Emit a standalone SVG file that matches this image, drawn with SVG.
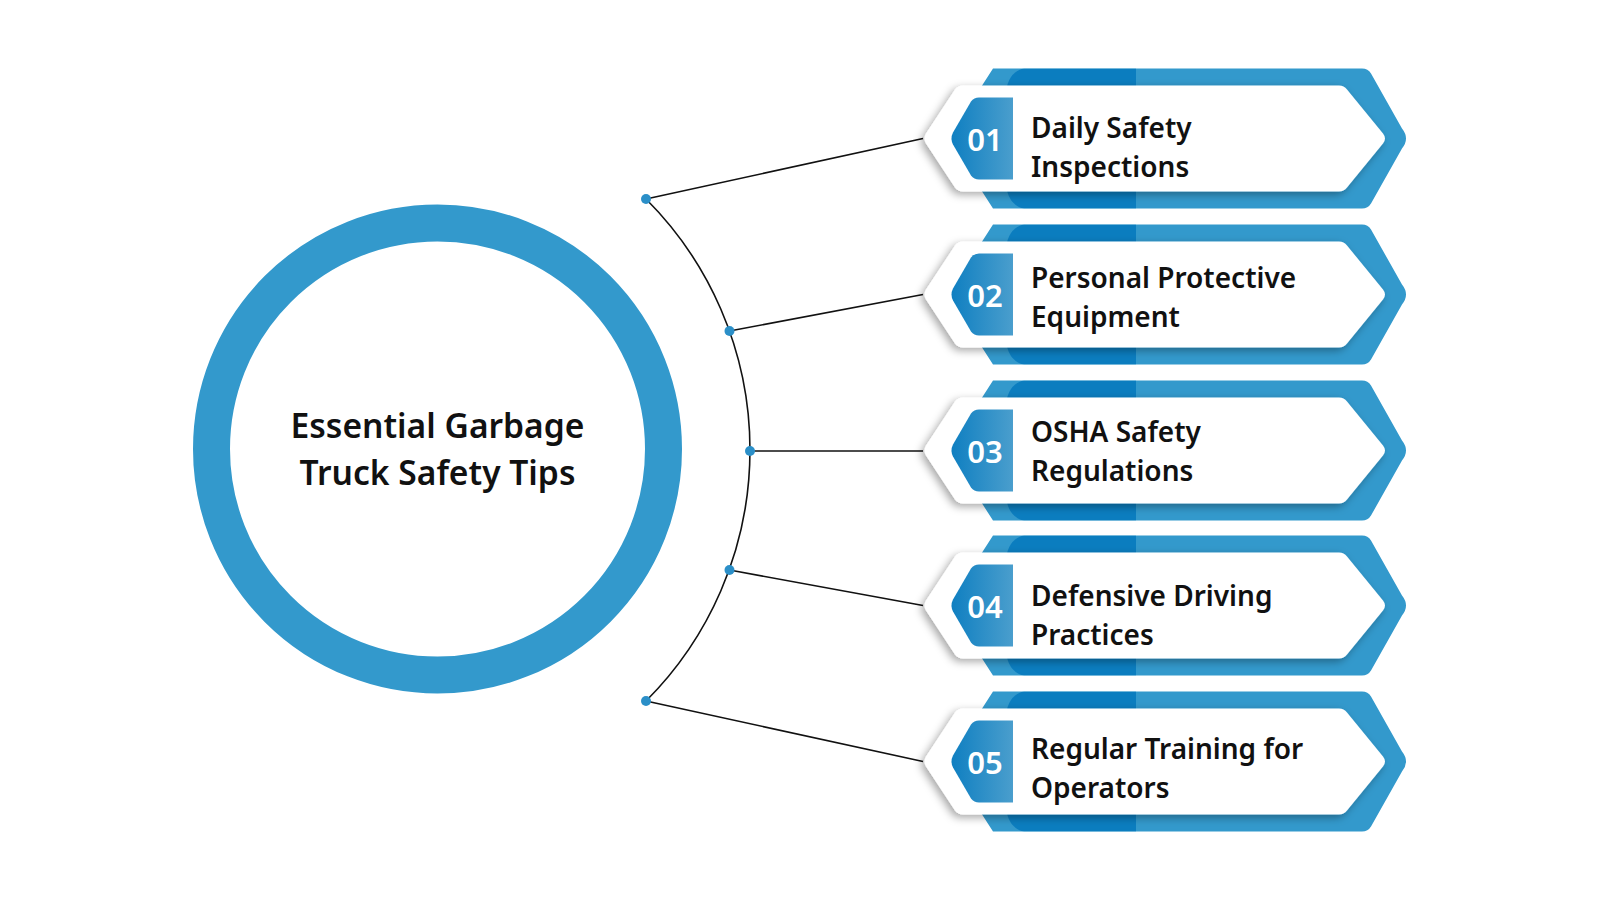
<svg xmlns="http://www.w3.org/2000/svg" width="1600" height="900" viewBox="0 0 1600 900">
<style>
.title{font-family:"Noto Sans","Liberation Sans",sans-serif;font-weight:600;font-size:33.6px;fill:#111;text-anchor:middle}
.lbl{font-family:"Noto Sans","Liberation Sans",sans-serif;font-weight:600;font-size:28px;fill:#111}
.num{font-family:"Noto Sans","Liberation Sans",sans-serif;font-weight:600;font-size:31px;fill:#fff;text-anchor:middle}
.blue{fill:#3399cc}
.band{fill:#0b7dbf}
.white{fill:#fff;filter:url(#sh)}
.badge{fill:url(#badgeG)}
.conn{fill:none;stroke:#111;stroke-width:1.6}
.dot{fill:#2b8fc8}
</style>
<defs>
<filter id="sh" x="-10%" y="-30%" width="120%" height="160%">
<feDropShadow dx="-3" dy="3" stdDeviation="4" flood-color="#000" flood-opacity="0.35"/>
</filter>
<linearGradient id="badgeG" x1="0" y1="0" x2="1" y2="0">
<stop offset="0" stop-color="#0f7fc1"/>
<stop offset="1" stop-color="#4a9ecd"/>
</linearGradient>
<clipPath id="hexClip">
<path d="M993,-70 L1362,-70 Q1368,-70 1371,-65 L1402,-10 Q1410,0 1402,10 L1371,65 Q1368,70 1362,70 L993,70 L948,0 Z"/>
</clipPath>
<g id="item">
<path class="blue" d="M993,-70 L1362,-70 Q1368,-70 1371,-65 L1402,-10 Q1410,0 1402,10 L1371,65 Q1368,70 1362,70 L993,70 L948,0 Z"/>
<path class="band" clip-path="url(#hexClip)" d="M1136,-72 L1036,-72 Q1006,-72 1006,-42 L1006,42 Q1006,72 1036,72 L1136,72 Z"/>
<path class="white" d="M963,-53 L1339,-53 Q1344,-53 1347,-49 L1383,-5 Q1387,0 1383,5 L1347,49 Q1344,53 1339,53 L963,53 Q958,53 955,49 L926,5 Q923,0 926,-5 L955,-49 Q958,-53 963,-53 Z"/>
<path class="badge" d="M1013,-41 L979,-41 Q974,-41 971,-37 L953,-6 Q950,0 953,6 L971,37 Q974,41 979,41 L1013,41 Z"/>
</g>
</defs>
<rect width="1600" height="900" fill="#fff"/>

<g id="center">
<circle cx="437.5" cy="449" r="226" fill="#fff" stroke="#3399cc" stroke-width="37"/>
<text class="title" x="437.5" y="438">Essential Garbage</text>
<text class="title" x="437.5" y="485">Truck Safety Tips</text>
</g>

<g id="connectors">
<path class="conn" d="M646,199 A355,355 0 0 1 646,701"/>
<line class="conn" x1="646" y1="199" x2="923" y2="138.5"/>
<line class="conn" x1="729.5" y1="331" x2="923" y2="294.5"/>
<line class="conn" x1="750" y1="451" x2="923" y2="451" stroke="#333" stroke-width="2"/>
<line class="conn" x1="729.5" y1="570" x2="923" y2="605.5"/>
<line class="conn" x1="646" y1="701" x2="923" y2="761.5"/>
<circle class="dot" cx="646" cy="199" r="5"/>
<circle class="dot" cx="729.5" cy="331" r="5"/>
<circle class="dot" cx="750" cy="451" r="5"/>
<circle class="dot" cx="729.5" cy="570" r="5"/>
<circle class="dot" cx="646" cy="701" r="5"/>
</g>

<g id="item1">
<use href="#item" transform="translate(0,138.5)"/>
<text class="num" x="985" y="151">01</text>
<text class="lbl" x="1031" y="138">Daily Safety</text>
<text class="lbl" x="1031" y="177">Inspections</text>
</g>
<g id="item2">
<use href="#item" transform="translate(0,294.5)"/>
<text class="num" x="985" y="307">02</text>
<text class="lbl" x="1031" y="288">Personal Protective</text>
<text class="lbl" x="1031" y="327">Equipment</text>
</g>
<g id="item3">
<use href="#item" transform="translate(0,450.5)"/>
<text class="num" x="985" y="463">03</text>
<text class="lbl" x="1031" y="442">OSHA Safety</text>
<text class="lbl" x="1031" y="481">Regulations</text>
</g>
<g id="item4">
<use href="#item" transform="translate(0,605.5)"/>
<text class="num" x="985" y="618">04</text>
<text class="lbl" x="1031" y="606">Defensive Driving</text>
<text class="lbl" x="1031" y="645">Practices</text>
</g>
<g id="item5">
<use href="#item" transform="translate(0,761.5)"/>
<text class="num" x="985" y="774">05</text>
<text class="lbl" x="1031" y="759">Regular Training for</text>
<text class="lbl" x="1031" y="798">Operators</text>
</g>
</svg>
